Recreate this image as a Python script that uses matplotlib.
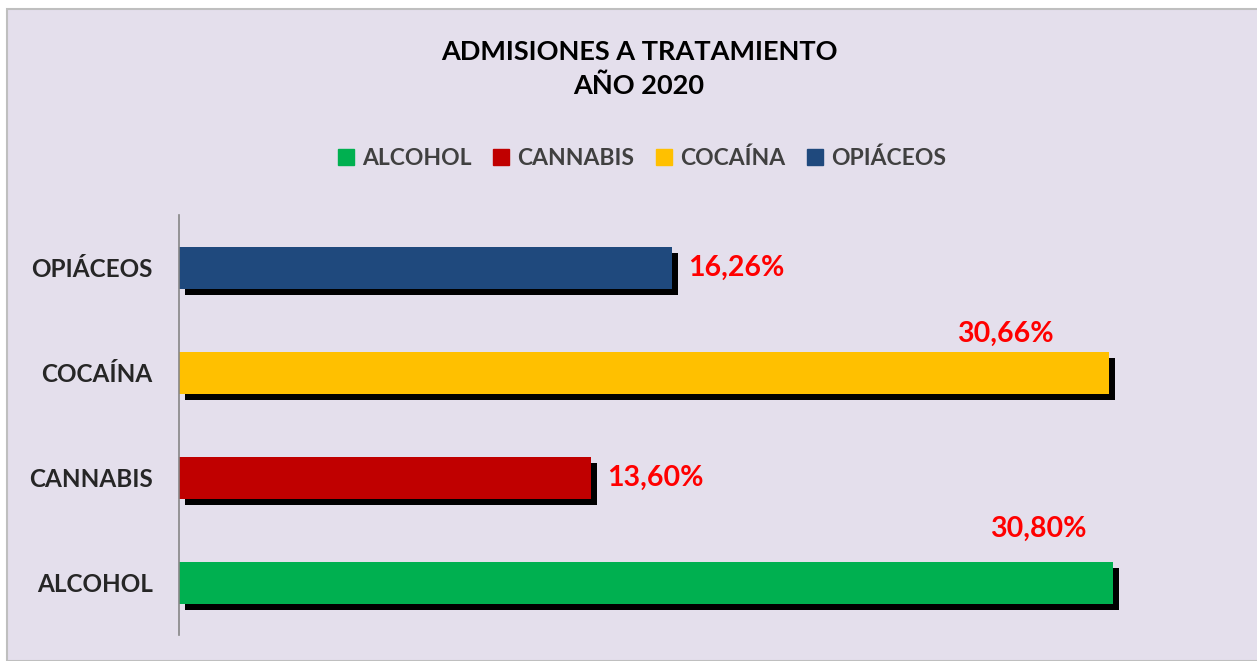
import matplotlib
matplotlib.use("Agg")
import matplotlib.pyplot as plt
from matplotlib.patches import Rectangle
from matplotlib.lines import Line2D
import matplotlib.transforms as mtransforms

categories = ["ALCOHOL", "CANNABIS", "COCAÍNA", "OPIÁCEOS"]
values = [30.80, 13.60, 30.66, 16.26]
labels = ["30,80%", "13,60%", "30,66%", "16,26%"]
colors = ["#00B050", "#C00000", "#FFC000", "#1F497D"]
title = "ADMISIONES A TRATAMIENTO\nAÑO 2020"

# label placement offsets (pixels) relative to bar end
label_offsets = [(-75, 54), (16, 0), (-103, 39), (16, 0)]

plt.rcParams['font.family'] = ['Lato', 'DejaVu Sans']

W, H = 1257, 661
fig = plt.figure(figsize=(W/100, H/100), dpi=100)
fig.patch.set_facecolor("white")
fig.patches.append(Rectangle((7/W, 0), 1.0, 1 - 9/H, transform=fig.transFigure,
                             facecolor="#E4DFEC", edgecolor="#BFBFBF", linewidth=1.5, zorder=-10))

ax = fig.add_axes([179/W, (H-635)/H, (1230-179)/W, 420/H])
ax.set_facecolor("none")
ypos = list(range(len(categories)))
shadow = mtransforms.offset_copy(ax.transData, fig=fig, x=6, y=-6, units='dots')
ax.barh(ypos, values, height=0.4, color="black", transform=shadow, zorder=1)
ax.barh(ypos, values, height=0.4, color=colors, zorder=2)

ax.set_xlim(0, (1230-179)/30.32)
ax.set_ylim(-0.5, 3.5)
ax.set_yticks(ypos)
ax.set_yticklabels(categories, fontsize=17.5, fontweight="bold", color="#262626")
ax.tick_params(axis='y', length=0, pad=19)
ax.set_xticks([])
for s in ["top", "right", "bottom"]:
    ax.spines[s].set_visible(False)
ax.spines["left"].set_color("#868686")
ax.spines["left"].set_linewidth(1.2)

for y, v, lab, off in zip(ypos, values, labels, label_offsets):
    ha = "center" if off[0] < 0 else "left"
    ax.annotate(lab, (v, y), xytext=off, textcoords="offset pixels",
                ha=ha, va="center", fontsize=20.5, fontweight="bold", color="#FF0000")

fig.text(639/W, 1 - 69/H, title, ha="center", va="center", fontsize=19.5,
         fontweight="bold", color="black", linespacing=1.45)

handles = [Line2D([], [], marker="s", linestyle="none", markersize=12,
                  markerfacecolor=c, markeredgecolor=c) for c in colors]
fig.legend(handles, categories, loc="center", bbox_to_anchor=(640/W, 1 - 158/H),
           ncol=4, frameon=False, prop={"size": 16.5, "weight": "bold"},
           labelcolor="#404040", handletextpad=0.2, columnspacing=0.8, handlelength=1.0)

fig.savefig("out.png", dpi=100)
